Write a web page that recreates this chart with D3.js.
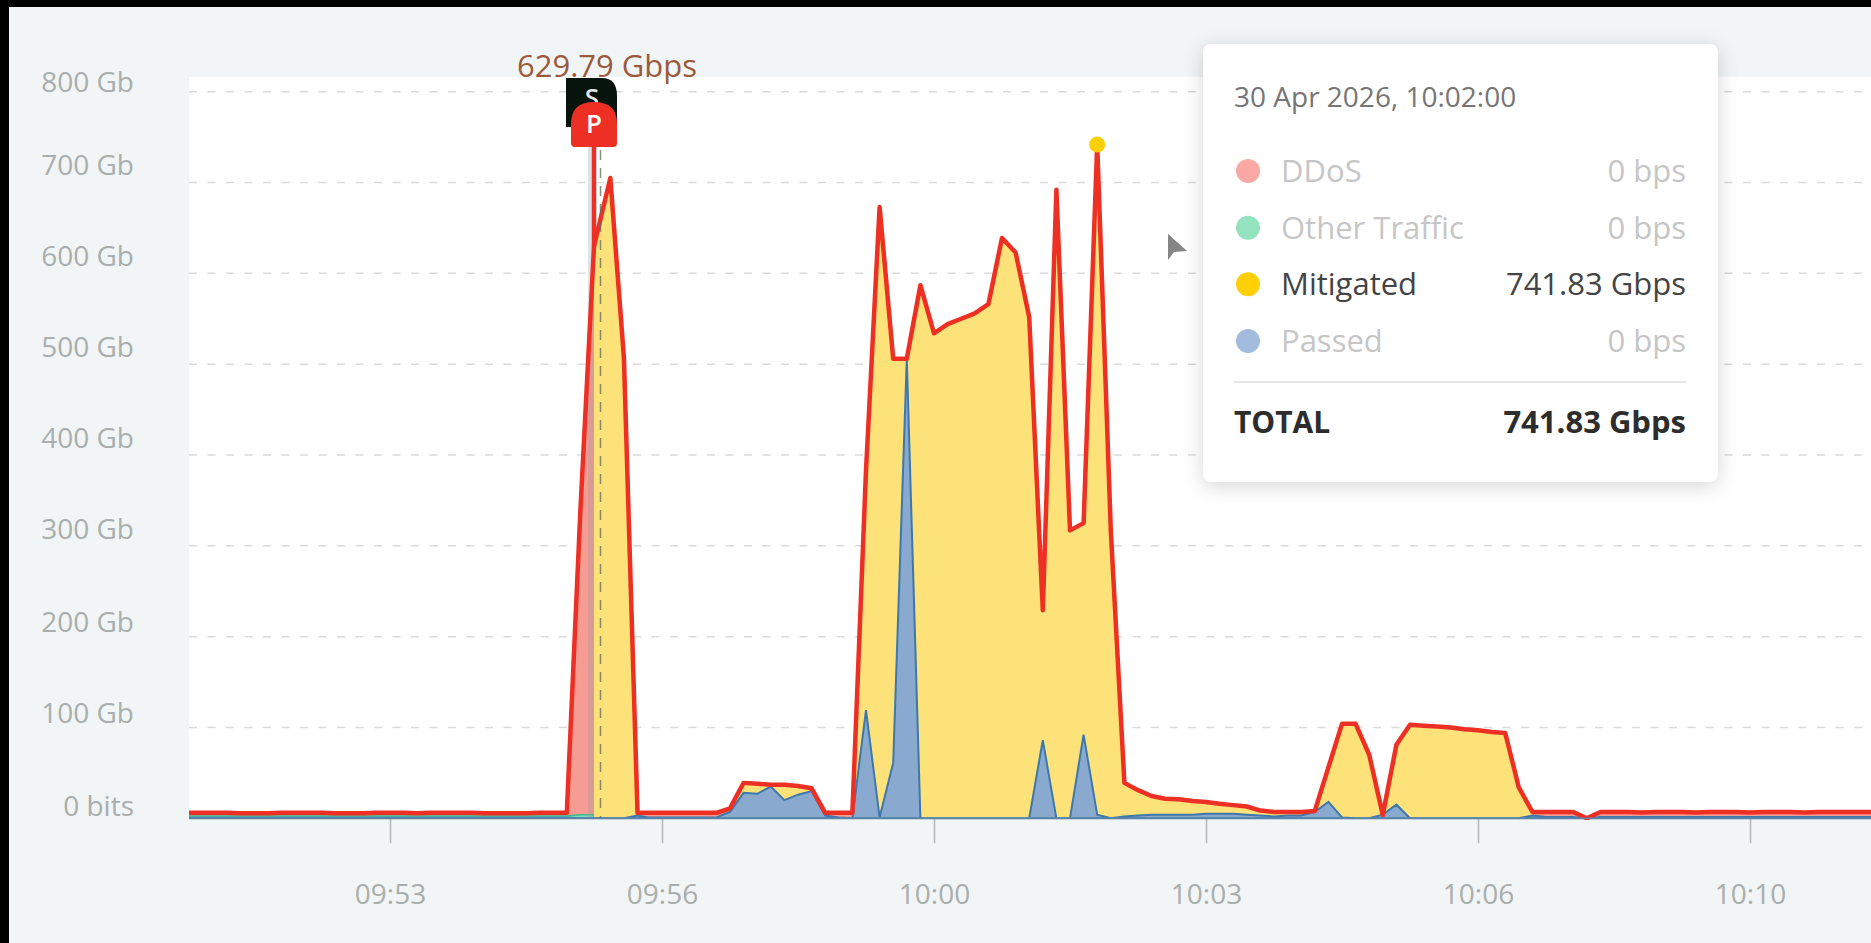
<!DOCTYPE html>
<html>
<head>
<meta charset="utf-8">
<script src="https://cdn.jsdelivr.net/npm/d3@7"></script>
<style>
  html, body { margin: 0; padding: 0; background: #000; overflow: hidden; }
  text { font-family: "Open Sans", sans-serif; }
</style>
</head>
<body>
<script>
// one sample every 10 seconds, starting 09:50:50 (values in Gb)
var startTime = new Date(2026, 3, 30, 9, 50, 50);
// these samples arrived a little late
var lateSamples = [31, 32, 33];

var total = [
  6, 6, 6, 6, 5.5, 5.5, 5.5, 6, 6, 6, 6, 5.5, 5.5, 5.5, 6, 6, 6, 5.5, 6, 6, 6, 6, 5.5, 5.5, 5.5, 5.5, 6, 6,
  6, 339, 629.79, 705, 507, 6, 6, 6, 6, 6, 6, 6,
  11, 39, 38, 37, 37, 35.5, 33, 6, 6, 6,
  383, 673, 506, 506, 587, 534, 544, 550, 556, 566, 639, 623, 552, 229, 692, 317, 325, 741.83, 317,
  39, 31, 24.5, 21.6, 21, 19, 18, 16, 14.5, 13, 8.5, 7, 7, 7, 8,
  56, 104, 104, 70, 3.6, 81, 103, 102, 101, 100, 98, 97, 95, 94, 34,
  7, 7, 7, 7, 0, 7, 7, 7, 6.5, 7, 7, 7, 6.5, 7, 7, 7, 6.5, 7, 7, 7, 6.5, 7, 7, 7, 7, 7
];

var ddos = [
  6, 6, 6, 6, 5.5, 5.5, 5.5, 6, 6, 6, 6, 5.5, 5.5, 5.5, 6, 6, 6, 5.5, 6, 6, 6, 6, 5.5, 5.5, 5.5, 5.5, 6, 6,
  6, 339, 629.79, null, null, 6, 6, 6, 6, 6, 6, 6,
  11, null, null, null, null, null, null, 6, 6, 6,
  null, null, null, null, null, null, null, null, null, null, null, null, null, null, null, null, null, null, null,
  null, null, null, null, null, null, null, null, null, null, null, null, null, null, null,
  null, null, null, null, null, null, null, null, null, null, null, null, null, null, null,
  7, 7, 7, 7, 0, 7, 7, 7, 6.5, 7, 7, 7, 6.5, 7, 7, 7, 6.5, 7, 7, 7, 6.5, 7, 7, 7, 7, 7
];

var mitigated = [
  null, null, null, null, null, null, null, null, null, null, null, null, null, null, null, null, null, null, null, null, null, null, null, null, null, null, null, null,
  null, null, 629.79, 705, 507, 6, null, null, null, null, null, null,
  11, 39, 38, 37, 37, 35.5, 33, 6, null, 6,
  383, 673, 506, 506, 587, 534, 544, 550, 556, 566, 639, 623, 552, 229, 692, 317, 325, 741.83, 317,
  39, 31, 24.5, 21.6, 21, 19, 18, 16, 14.5, 13, 8.5, 7, 7, 7, 8,
  56, 104, 104, 70, 3.6, 81, 103, 102, 101, 100, 98, 97, 95, 94, 34,
  7, null, null, null, null, null, null, null, null, null, null, null, null, null, null, null, null, null, null, null, null, null, null, null, null, null
];

var passed = [
  0.5, 0.5, 0.5, 0.5, 0.5, 0.5, 0.5, 0.5, 0.5, 0.5, 0.5, 0.5, 0.5, 0.5, 0.5, 0.5, 0.5, 0.5, 0.5, 0.5, 0.5, 0.5, 0.5, 0.5, 0.5, 0.5, 0.5, 0.5,
  0.5, 0, 0, 0, 0, 3, 1, 1, 1, 1, 1, 1,
  7, 28, 27, 35, 20, 26, 30, 3, 1, 0,
  119, 1, 61, 506, 0, 0, 0, 0, 0, 0, 0, 0, 0, 86, 0, 0, 92, 4, 0,
  2, 3, 4, 4, 4, 4, 5, 5, 5, 4, 3, 2, 3, 3, 7,
  18, 1, 0, 0, 4, 15, 0, 0, 0, 0, 0, 0, 0, 0, 0,
  3, 1.5, 1.5, 1.5, 0, 1.5, 1.5, 1.5, 1.5, 1.5, 1.5, 1.5, 1.5, 1.5, 1.5, 1.5, 1.5, 1.5, 1.5, 1.5, 1.5, 1.5, 1.5, 1.5, 1.5, 1.5
];

var other = [
  2.5, 2.5, 2.5, 2.5, 2.5, 2.5, 2.5, 2.5, 2.5, 2.5, 2.5, 2.5, 2.5, 2.5, 2.5, 2.5, 2.5, 2.5, 2.5, 2.5, 2.5, 2.5, 2.5, 2.5, 2.5, 2.5, 2.5, 2.5,
  2.5, 4, 4
];

var yTicks = [0, 100, 200, 300, 400, 500, 600, 700, 800];
var xTicks = [
  new Date(2026, 3, 30, 9, 53, 20),
  new Date(2026, 3, 30, 9, 56, 40),
  new Date(2026, 3, 30, 10, 0, 0),
  new Date(2026, 3, 30, 10, 3, 20),
  new Date(2026, 3, 30, 10, 6, 40),
  new Date(2026, 3, 30, 10, 10, 0)
];

// tooltip content
var tipTitle = "30 Apr 2026, 10:02:00";
var tipNames = ["DDoS", "Other Traffic", "Mitigated", "Passed"];
var tipValues = ["0 bps", "0 bps", "741.83 Gbps", "0 bps"];
var tipDots = ["#f9a8a3", "#93e2c0", "#ffcf07", "#a1bcdc"];
var tipInks = ["#c6c6c6", "#c6c6c6", "#444444", "#c6c6c6"];
var tipTotal = "741.83 Gbps";

var attackIndex = 30;   // S / P flags
var peakIndex = 67;     // highlighted point

var times = total.map((d, i) => d3.timeSecond.offset(startTime, i * 10 + (lateSamples.includes(i) ? 2 : 0)));

var svg = d3.select("body").append("svg")
  .attr("width", 1871)
  .attr("height", 943)
  .style("display", "block");

// page and plot backgrounds
svg.append("rect").attr("x", 9).attr("y", 7).attr("width", 1862).attr("height", 936).attr("fill", "#f2f5f5");
svg.append("rect").attr("x", 189).attr("y", 77).attr("width", 1682).attr("height", 741).attr("fill", "#fff");

var x = d3.scaleTime()
  .domain([new Date(2026, 3, 30, 10, 0, 0), new Date(2026, 3, 30, 10, 10, 0)])
  .range([934, 1750]);
var y = d3.scaleLinear().domain([0, 800]).range([818.3, 91.7]);

svg.append("defs").append("clipPath").attr("id", "plot")
  .append("rect").attr("x", 189).attr("y", 60).attr("width", 1682).attr("height", 760);

// gridlines
svg.append("g").selectAll("line")
  .data(yTicks.filter(d => d > 0))
  .enter().append("line")
  .attr("x1", 189).attr("x2", 1871)
  .attr("y1", d => y(d)).attr("y2", d => y(d))
  .attr("stroke", "#d9dada")
  .attr("stroke-width", 1.5)
  .attr("stroke-dasharray", "8 10.5");

// y labels sit above their gridlines
function labelShift(v) {
  if (v === 800) return -10;
  if (v === 0) return -12;
  return v >= 300 ? -17 : -14;
}
svg.append("g").selectAll("text")
  .data(yTicks)
  .enter().append("text")
  .attr("x", 134)
  .attr("y", d => y(d) + labelShift(d))
  .attr("dy", "0.35em")
  .attr("text-anchor", "end")
  .attr("fill", "#a9aeae")
  .attr("font-size", 28)
  .text(d => d === 0 ? "0 bits" : d + " Gb");

// x axis
var xAxis = d3.axisBottom(x).tickValues(xTicks).tickSize(25).tickFormat(d3.timeFormat("%H:%M"));
var xg = svg.append("g").attr("transform", "translate(0,818.3)").call(xAxis);
xg.select(".domain").remove();
xg.selectAll("line").attr("stroke", "#b5b7b7").attr("stroke-width", 1.5);
xg.selectAll("text")
  .attr("y", 78)
  .attr("dy", "0")
  .attr("dominant-baseline", "middle")
  .attr("fill", "#a9aeae")
  .attr("font-size", 28)
  .attr("font-family", '"Open Sans", sans-serif');

var chart = svg.append("g").attr("clip-path", "url(#plot)");

function areaOf(values) {
  return d3.area()
    .defined((d, i) => values[i] !== null && values[i] !== undefined)
    .x((d, i) => x(times[i]))
    .y0(y(0))
    .y1((d, i) => y(values[i]))(values);
}

chart.append("path").attr("d", areaOf(ddos)).attr("fill", "#f79c92");
chart.append("path").attr("d", areaOf(other)).attr("fill", "#7fdcb5").attr("stroke", "#3fb892").attr("stroke-width", 1.5);
chart.append("path").attr("d", areaOf(mitigated)).attr("fill", "#fde27a");

// grey band just left of the attack marker
chart.append("rect")
  .attr("x", x(times[attackIndex]) - 6)
  .attr("width", 6)
  .attr("y", 100)
  .attr("height", y(0) - 100)
  .attr("fill", "#8f9aa5")
  .attr("opacity", 0.28);

chart.append("path").attr("d", areaOf(passed))
  .attr("fill", "#8aa9cf")
  .attr("stroke", "#3c78ad")
  .attr("stroke-width", 2);

// axis line under the fills
svg.append("line")
  .attr("x1", 189).attr("x2", 1871)
  .attr("y1", y(0)).attr("y2", y(0))
  .attr("stroke", "#5f86a8")
  .attr("stroke-width", 1.5);

// dashed marker line
var attackX = x(times[attackIndex]);
svg.append("line")
  .attr("x1", attackX + 6.5).attr("x2", attackX + 6.5)
  .attr("y1", 78).attr("y2", y(0))
  .attr("stroke", "#5d6b57")
  .attr("stroke-width", 1.5)
  .attr("stroke-opacity", 0.75)
  .attr("stroke-dasharray", "10 8");

// total outline
var line = d3.line().x((d, i) => x(times[i])).y(d => y(d));
chart.append("path")
  .attr("d", line(total))
  .attr("fill", "none")
  .attr("stroke", "#ee3024")
  .attr("stroke-width", 4.5)
  .attr("stroke-linejoin", "round");

// flags
svg.append("text")
  .attr("x", attackX + 13)
  .attr("y", 66)
  .attr("dy", "0.35em")
  .attr("text-anchor", "middle")
  .attr("fill", "#9c5a3c")
  .attr("font-size", 31)
  .text("629.79 Gbps");

svg.append("path")
  .attr("d", `M${attackX - 28},78 H${attackX + 8} Q${attackX + 23},78 ${attackX + 23},96 V127 H${attackX - 28} Z`)
  .attr("fill", "#07140c");
svg.append("text")
  .attr("x", attackX - 2).attr("y", 98)
  .attr("dy", "0.35em").attr("text-anchor", "middle")
  .attr("fill", "#e8e8e8").attr("font-size", 26).attr("font-weight", 600)
  .text("S");

svg.append("line")
  .attr("x1", attackX).attr("x2", attackX)
  .attr("y1", 140).attr("y2", y(total[attackIndex]))
  .attr("stroke", "#ee3024").attr("stroke-width", 4.5);
svg.append("path")
  .attr("d", `M${attackX - 23},124 Q${attackX - 23},102 ${attackX},102 Q${attackX + 23},102 ${attackX + 23},124 V143 Q${attackX + 23},147 ${attackX + 19},147 H${attackX - 19} Q${attackX - 23},147 ${attackX - 23},143 Z`)
  .attr("fill", "#ee3024");
svg.append("text")
  .attr("x", attackX).attr("y", 124)
  .attr("dy", "0.35em").attr("text-anchor", "middle")
  .attr("fill", "#fff").attr("font-size", 26).attr("font-weight", 600)
  .text("P");

// hovered point
svg.append("circle")
  .attr("cx", x(times[peakIndex]))
  .attr("cy", y(mitigated[peakIndex]))
  .attr("r", 8)
  .attr("fill", "#f9cf06");

// mouse pointer
svg.append("path")
  .attr("d", "M1168,234 L1187,251 L1174,252 L1168,260 Z")
  .attr("fill", "#858585");

// tooltip
var tip = svg.append("g");
tip.append("rect")
  .attr("x", 1203).attr("y", 44)
  .attr("width", 515).attr("height", 438)
  .attr("rx", 8)
  .attr("fill", "#fff")
  .style("filter", "drop-shadow(0 4px 10px rgba(0,0,0,0.16))");
tip.append("text")
  .attr("x", 1234).attr("y", 97)
  .attr("dy", "0.35em")
  .attr("fill", "#757575")
  .attr("font-size", 28)
  .text(tipTitle);

var rowY = d3.scaleLinear().domain([0, 3]).range([171, 341]);
var rows = tip.selectAll("g.row")
  .data(tipNames)
  .enter().append("g")
  .attr("class", "row")
  .attr("transform", (d, i) => `translate(0,${rowY(i)})`);
rows.append("circle")
  .attr("cx", 1248)
  .attr("r", 12)
  .attr("fill", (d, i) => tipDots[i]);
rows.append("text")
  .attr("x", 1281)
  .attr("dy", "0.35em")
  .attr("font-size", 31)
  .attr("fill", (d, i) => tipInks[i])
  .text(d => d);
rows.append("text")
  .attr("x", 1686)
  .attr("dy", "0.35em")
  .attr("text-anchor", "end")
  .attr("font-size", 31)
  .attr("fill", (d, i) => tipInks[i])
  .text((d, i) => tipValues[i]);

tip.append("line")
  .attr("x1", 1234).attr("x2", 1686)
  .attr("y1", 382).attr("y2", 382)
  .attr("stroke", "#dcdcdc").attr("stroke-width", 1.5);
tip.append("text")
  .attr("x", 1234).attr("y", 422)
  .attr("dy", "0.35em")
  .attr("font-size", 30).attr("font-weight", 700).attr("fill", "#2d2d2d")
  .text("TOTAL");
tip.append("text")
  .attr("x", 1686).attr("y", 422)
  .attr("dy", "0.35em").attr("text-anchor", "end")
  .attr("font-size", 31).attr("font-weight", 700).attr("fill", "#2d2d2d")
  .text(tipTotal);
</script>
</body>
</html>
